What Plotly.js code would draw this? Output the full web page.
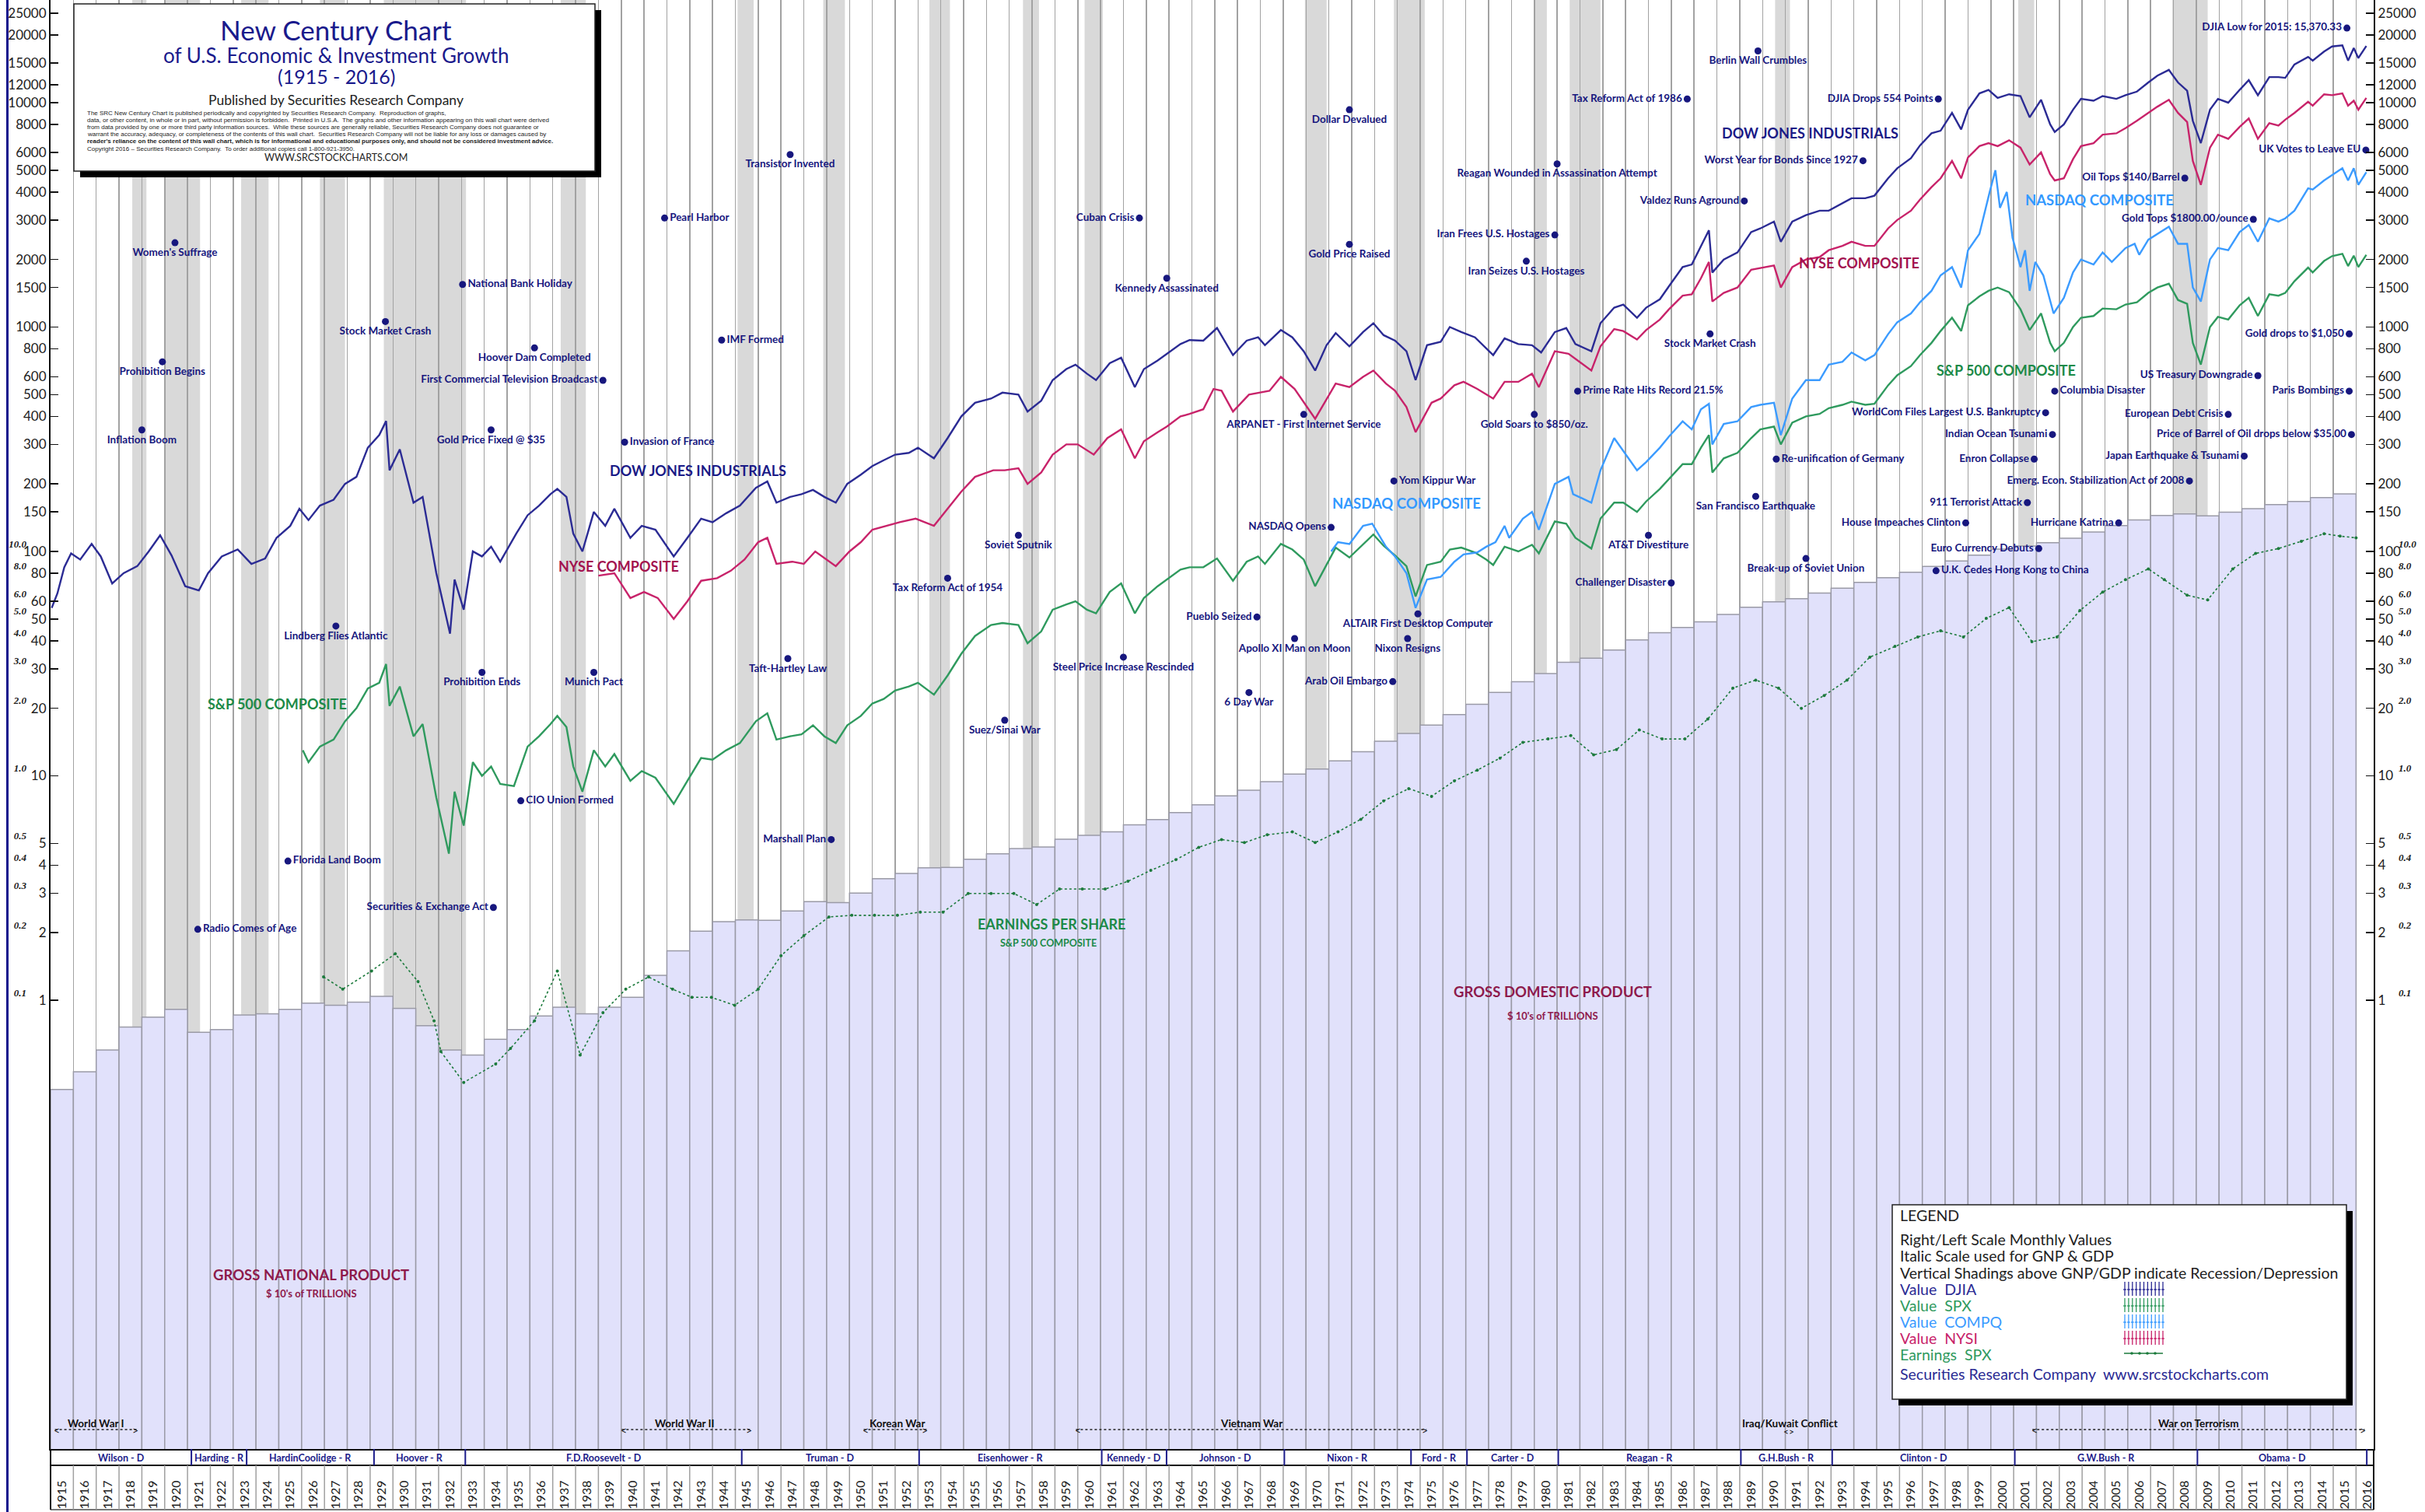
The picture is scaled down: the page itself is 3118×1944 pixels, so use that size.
<!DOCTYPE html>
<html><head><meta charset="utf-8">
<script src="https://cdn.plot.ly/plotly-3.0.1.min.js"></script>
<style>html,body{margin:0;padding:0;background:#fff;}#chart{width:3118px;height:1944px;}</style>
</head><body><div id="chart"></div>
<script>
// ---------------- DATA ----------------
const yearLabels = [1915,1916,1917,1918,1919,1920,1921,1922,1923,1924,1925,1926,1927,1928,1929,1930,1931,1932,1933,1934,1935,1936,1937,1938,1939,1940,1941,1942,1943,1944,1945,1946,1947,1948,1949,1950,1951,1952,1953,1954,1955,1956,1957,1958,1959,1960,1961,1962,1963,1964,1965,1966,1967,1968,1969,1970,1971,1972,1973,1974,1975,1976,1977,1978,1979,1980,1981,1982,1983,1984,1985,1986,1987,1988,1989,1990,1991,1992,1993,1994,1995,1996,1997,1998,1999,2000,2001,2002,2003,2004,2005,2006,2007,2008,2009,2010,2011,2012,2013,2014,2015,2016];

// GNP (to 1949) / GDP (from 1950), italic scale units
const gdpYears = yearLabels.slice(0, 101);
const gdpValues = [0.040,0.048,0.060,0.076,0.084,0.091,0.072,0.074,0.086,0.087,0.091,0.097,0.095,0.098,0.104,0.092,0.077,0.060,0.057,0.067,0.074,0.085,0.093,0.087,0.093,0.103,0.129,0.166,0.203,0.224,0.228,0.227,0.250,0.275,0.272,0.300,0.348,0.367,0.389,0.391,0.425,0.449,0.474,0.482,0.522,0.543,0.563,0.605,0.638,0.686,0.743,0.815,0.862,0.942,1.019,1.073,1.165,1.280,1.425,1.545,1.684,1.873,2.082,2.352,2.627,2.857,3.207,3.343,3.634,4.037,4.339,4.580,4.855,5.236,5.642,5.963,6.158,6.520,6.859,7.287,7.640,8.073,8.578,9.063,9.631,10.25,10.58,10.94,11.46,12.21,13.04,13.81,14.45,14.71,14.42,14.96,15.52,16.16,16.69,17.39,18.04];

const djiaDates = [1915.05,1915.3,1915.6,1915.9,1916.3,1916.8,1917.2,1917.7,1918.2,1918.8,1919.3,1919.8,1920.3,1920.9,1921.5,1921.9,1922.5,1923.2,1923.8,1924.4,1924.9,1925.5,1925.9,1926.3,1926.8,1927.4,1927.9,1928.4,1928.9,1929.4,1929.7,1929.85,1930.3,1930.9,1931.3,1931.9,1932.5,1932.7,1933.1,1933.5,1933.9,1934.3,1934.7,1935.4,1935.9,1936.4,1936.9,1937.2,1937.6,1937.9,1938.3,1938.8,1939.3,1939.7,1940.4,1940.9,1941.5,1942.3,1942.9,1943.5,1944.0,1944.6,1945.2,1945.9,1946.4,1946.8,1947.4,1947.9,1948.4,1948.9,1949.4,1949.9,1950.5,1951.0,1951.5,1952.0,1952.6,1953.0,1953.7,1954.3,1954.9,1955.5,1956.2,1956.7,1957.4,1957.8,1958.4,1958.9,1959.5,1959.9,1960.4,1960.8,1961.4,1961.9,1962.5,1962.9,1963.5,1963.9,1964.5,1964.9,1965.5,1966.1,1966.8,1967.4,1967.9,1968.2,1968.9,1969.4,1969.9,1970.4,1970.9,1971.3,1971.9,1972.5,1972.95,1973.4,1973.9,1974.4,1974.8,1975.3,1975.9,1976.3,1976.8,1977.4,1977.9,1978.2,1978.7,1979.3,1979.9,1980.3,1980.9,1981.4,1981.8,1982.5,1982.9,1983.5,1983.9,1984.5,1984.9,1985.5,1985.9,1986.5,1986.9,1987.3,1987.65,1987.8,1988.3,1988.9,1989.5,1989.9,1990.5,1990.8,1991.3,1991.9,1992.5,1992.9,1993.5,1993.9,1994.5,1994.9,1995.5,1995.9,1996.5,1996.9,1997.4,1997.8,1998.3,1998.7,1999.0,1999.5,1999.9,2000.3,2000.8,2001.3,2001.7,2002.2,2002.6,2002.8,2003.2,2003.6,2003.95,2004.5,2004.9,2005.5,2005.9,2006.4,2006.9,2007.3,2007.8,2008.2,2008.6,2008.85,2009.2,2009.6,2009.95,2010.4,2010.9,2011.3,2011.7,2012.2,2012.6,2012.9,2013.3,2013.9,2014.1,2014.6,2014.95,2015.4,2015.65,2015.9,2016.1,2016.45];
const djiaValues = [56,65,85,98,92,108,95,72,80,86,100,118,96,70,67,80,95,102,88,93,115,130,155,138,160,170,200,215,290,330,381,230,285,165,175,80,43,75,55,100,95,105,90,120,145,160,180,190,175,120,100,150,130,155,115,130,125,95,115,140,135,148,160,192,205,165,175,180,188,175,165,200,220,240,255,270,275,290,260,320,400,460,480,510,500,420,470,580,650,680,620,580,690,730,540,650,710,760,840,875,870,990,750,870,900,830,970,900,780,640,830,940,820,950,1040,920,870,780,580,830,860,1000,950,900,800,750,890,840,830,770,950,990,840,780,1040,1220,1260,1100,1220,1330,1520,1850,1900,2300,2700,1750,2000,2150,2650,2750,2950,2400,2950,3150,3300,3300,3550,3750,3750,3850,4600,5100,5650,6450,7300,7500,9000,7600,9300,11000,11400,10500,10900,10700,8600,10300,8000,7400,8000,9300,10400,10200,10700,10400,10800,11200,12300,13200,14000,12300,11300,8300,6600,9300,10400,10000,11400,12600,10800,13000,13000,12900,14800,16000,15400,16900,17800,18000,15400,17500,15800,17900];

const nyseDates = [1939.0,1939.7,1940.4,1941.0,1941.6,1942.3,1942.9,1943.5,1944.2,1944.8,1945.4,1946.0,1946.4,1946.8,1947.5,1948.0,1948.5,1949.4,1950.0,1950.5,1951.0,1951.6,1952.2,1952.9,1953.7,1954.3,1954.9,1955.5,1956.3,1956.8,1957.4,1957.8,1958.4,1958.9,1959.5,1960.0,1960.7,1961.3,1961.9,1962.5,1962.9,1963.5,1963.9,1964.5,1964.9,1965.5,1965.95,1966.3,1966.8,1967.5,1967.9,1968.4,1968.9,1969.5,1970.4,1970.9,1971.3,1971.9,1972.5,1972.95,1973.5,1973.9,1974.4,1974.8,1975.5,1975.9,1976.5,1976.9,1977.5,1978.2,1978.7,1979.3,1979.9,1980.2,1980.9,1981.5,1982.5,1982.9,1983.5,1983.9,1984.5,1984.9,1985.5,1985.9,1986.5,1986.9,1987.3,1987.65,1987.8,1988.3,1988.9,1989.5,1989.9,1990.5,1990.8,1991.3,1991.9,1992.5,1992.9,1993.5,1993.9,1994.5,1994.9,1995.5,1995.9,1996.5,1996.9,1997.4,1997.8,1998.3,1998.7,1999.0,1999.5,1999.9,2000.3,2000.8,2001.3,2001.7,2002.2,2002.6,2002.8,2003.2,2003.6,2003.95,2004.5,2004.9,2005.5,2005.9,2006.4,2006.9,2007.3,2007.8,2008.2,2008.6,2008.85,2009.2,2009.6,2009.95,2010.4,2010.9,2011.3,2011.7,2012.2,2012.6,2012.9,2013.3,2013.9,2014.1,2014.6,2014.95,2015.4,2015.65,2015.9,2016.1,2016.45];
const nyseValues = [78,80,62,66,62,50,60,74,76,82,92,110,115,88,90,88,100,86,100,110,125,130,135,140,130,155,185,215,230,230,235,200,225,270,300,300,270,320,350,260,310,340,360,400,410,430,530,520,420,500,510,520,600,530,390,480,560,540,600,640,560,520,440,340,460,480,550,570,530,480,570,570,620,540,780,760,640,820,980,960,880,970,1080,1200,1380,1400,1650,1950,1300,1420,1500,1800,1830,1880,1500,1850,2000,2050,2200,2300,2400,2300,2300,2750,3000,3300,3700,4200,4600,5500,4600,5700,6400,6600,6400,6800,6300,5300,6000,4800,4500,4600,5600,6400,6600,7200,7300,7700,8300,9000,9600,10300,9000,8200,5500,4300,6300,7200,6900,7800,8500,6900,8100,7900,8400,9000,10100,9700,10900,10800,11000,9700,10200,9300,10500];

const compDates = [1971.1,1971.4,1971.9,1972.5,1972.9,1973.5,1973.9,1974.4,1974.8,1975.3,1975.9,1976.5,1976.9,1977.5,1977.9,1978.3,1978.7,1978.9,1979.5,1979.9,1980.2,1980.9,1981.5,1981.7,1982.5,1982.9,1983.5,1983.9,1984.5,1984.9,1985.5,1985.9,1986.5,1986.9,1987.3,1987.65,1987.8,1988.3,1988.9,1989.5,1989.9,1990.5,1990.8,1991.3,1991.9,1992.5,1992.9,1993.5,1993.9,1994.5,1994.9,1995.5,1995.9,1996.5,1996.9,1997.4,1997.8,1998.3,1998.7,1999.0,1999.5,1999.95,2000.2,2000.4,2000.7,2000.95,2001.3,2001.5,2001.7,2001.95,2002.3,2002.75,2003.2,2003.6,2003.95,2004.5,2004.9,2005.3,2005.9,2006.3,2006.5,2006.9,2007.3,2007.8,2008.2,2008.6,2008.85,2009.2,2009.6,2009.95,2010.4,2010.9,2011.3,2011.7,2012.2,2012.6,2012.9,2013.3,2013.9,2014.1,2014.6,2014.95,2015.4,2015.65,2015.9,2016.1,2016.45];
const compValues = [100,110,108,130,133,105,95,80,56,75,77,90,97,99,105,110,130,115,140,150,125,200,215,180,165,230,320,280,230,250,290,325,380,350,430,455,300,370,380,440,450,460,330,480,580,580,680,700,770,710,750,930,1050,1150,1290,1450,1700,1850,1500,2200,2600,4000,5000,3400,4000,2500,1850,2200,1450,1950,1700,1150,1350,1750,2000,1900,2150,1950,2250,2350,2100,2450,2600,2800,2350,2350,1500,1300,2000,2250,2200,2650,2850,2400,3050,2950,3050,3300,4150,4100,4500,4750,5100,4500,5100,4300,4900];

const spxDates = [1926.05,1926.3,1926.8,1927.4,1927.9,1928.4,1928.9,1929.4,1929.7,1929.85,1930.3,1930.9,1931.3,1931.9,1932.45,1932.7,1933.1,1933.5,1933.9,1934.3,1934.7,1935.3,1935.9,1936.4,1936.9,1937.2,1937.6,1937.9,1938.3,1938.8,1939.3,1939.7,1940.4,1940.9,1941.5,1942.3,1942.9,1943.5,1944.0,1944.6,1945.2,1945.9,1946.4,1946.8,1947.4,1947.9,1948.4,1948.9,1949.4,1949.9,1950.5,1951.0,1951.5,1952.0,1952.6,1953.0,1953.7,1954.3,1954.9,1955.5,1956.2,1956.7,1957.4,1957.8,1958.4,1958.9,1959.5,1959.9,1960.4,1960.8,1961.4,1961.9,1962.5,1962.9,1963.5,1963.9,1964.5,1964.9,1965.5,1966.1,1966.8,1967.4,1967.9,1968.2,1968.9,1969.4,1969.9,1970.4,1970.9,1971.3,1971.9,1972.5,1972.95,1973.4,1973.9,1974.4,1974.8,1975.3,1975.9,1976.3,1976.8,1977.4,1977.9,1978.2,1978.7,1979.3,1979.9,1980.2,1980.9,1981.4,1981.8,1982.5,1982.9,1983.5,1983.9,1984.5,1984.9,1985.5,1985.9,1986.5,1986.9,1987.3,1987.65,1987.8,1988.3,1988.9,1989.5,1989.9,1990.5,1990.8,1991.3,1991.9,1992.5,1992.9,1993.5,1993.9,1994.5,1994.9,1995.5,1995.9,1996.5,1996.9,1997.4,1997.8,1998.3,1998.7,1999.0,1999.5,1999.9,2000.3,2000.8,2001.3,2001.7,2002.2,2002.6,2002.8,2003.2,2003.6,2003.95,2004.5,2004.9,2005.5,2005.9,2006.4,2006.9,2007.3,2007.8,2008.2,2008.6,2008.85,2009.2,2009.6,2009.95,2010.4,2010.9,2011.3,2011.7,2012.2,2012.6,2012.9,2013.3,2013.9,2014.1,2014.6,2014.95,2015.4,2015.65,2015.9,2016.1,2016.45];
const spxValues = [13,11.5,13.5,14.5,17.5,20,24.5,26,31.5,20.5,25,15,17,8,4.5,8.5,6,11.5,10,11,9.2,9,13.5,15,17,18.5,16.5,11,8.5,13,11,12.5,9.5,10.5,9.8,7.5,9.5,12,11.8,13,14,17.5,19,14.5,15,15.3,16.8,15,14,16.8,18.5,21,22,24,25,26,23,28,35,42,47,48,47,39,44,55,58,60,55,53,66,72,53,62,70,75,83,85,85,93,74,90,95,88,108,102,92,70,87,104,94,108,119,106,96,86,63,87,90,102,104,99,92,87,105,100,107,98,136,133,115,103,140,165,165,150,167,190,210,245,245,290,330,225,260,275,320,350,360,300,375,400,410,435,450,465,450,455,550,610,670,750,850,960,1100,960,1250,1370,1450,1500,1430,1200,970,1150,850,780,850,1000,1100,1120,1210,1200,1260,1290,1420,1500,1560,1320,1270,850,680,1000,1110,1080,1250,1350,1120,1400,1380,1420,1600,1840,1750,1970,2070,2120,1870,2080,1850,2100];

const epsDates = [1926.96,1927.8,1929.06,1930.1,1931.1,1931.8,1932.1,1933.1,1934.5,1935.15,1936.2,1937.2,1938.2,1939.2,1940.2,1941.2,1942.25,1943.1,1943.95,1944.97,1946.0,1947.0,1948.0,1949.1,1950.1,1951.1,1952.1,1953.1,1954.1,1955.2,1956.2,1957.2,1958.2,1959.2,1960.2,1961.2,1962.2,1963.2,1964.3,1965.3,1966.3,1967.3,1968.3,1969.4,1970.4,1971.4,1972.4,1973.4,1974.5,1975.5,1976.5,1977.5,1978.5,1979.5,1980.6,1981.6,1982.6,1983.6,1984.6,1985.6,1986.6,1987.6,1988.7,1989.7,1990.7,1991.7,1992.7,1993.7,1994.7,1995.8,1996.8,1997.8,1998.8,1999.8,2000.8,2001.8,2002.9,2003.9,2004.9,2005.9,2006.9,2007.6,2008.6,2009.5,2010.6,2011.6,2012.6,2013.6,2014.6,2015.3,2016.0];
const epsValues = [1.27,1.12,1.35,1.61,1.21,0.81,0.59,0.43,0.52,0.61,0.81,1.35,0.57,0.88,1.12,1.27,1.12,1.03,1.03,0.95,1.12,1.58,1.94,2.35,2.39,2.39,2.39,2.47,2.47,2.99,2.99,2.99,2.67,3.13,3.13,3.13,3.39,3.79,4.23,4.8,5.2,5.04,5.46,5.63,5.04,5.63,6.4,7.73,8.77,8.1,9.5,10.6,12.0,14.1,14.6,15.1,12.4,13.1,16.0,14.6,14.6,17.9,24.6,26.7,24.6,20.0,22.8,26.7,33.8,37.8,41.6,44.3,41.6,50.3,56.2,39.6,41.6,54.5,65.9,74.8,83.6,74.8,63.8,60.8,83.6,98,103,111,120,117,115];

const recessionStart = [1918.58,1920.0,1923.35,1926.8,1929.6,1937.35,1945.1,1948.85,1953.5,1957.6,1960.3,1969.95,1973.85,1980.0,1981.55,1990.55,2001.2,2007.95];
const recessionEnd   = [1919.2,1921.55,1924.55,1927.9,1933.2,1938.45,1945.8,1949.8,1954.4,1958.3,1961.1,1970.9,1975.2,1980.55,1982.9,1991.2,2001.9,2009.5];

const presidentNames = ['Wilson - D','Harding - R','HardinCoolidge - R','Hoover - R','F.D.Roosevelt - D','Truman - D','Eisenhower - R','Kennedy - D','Johnson - D','Nixon - R','Ford - R','Carter - D','Reagan - R','G.H.Bush - R','Clinton - D','G.W.Bush - R','Obama - D'];
const presidentStart = [1915,1921.17,1923.59,1929.17,1933.17,1945.28,1953.05,1961.05,1963.89,1969.05,1974.6,1977.05,1981.05,1989.05,1993.05,2001.05,2009.05];
const presidentEnd   = [1921.17,1923.59,1929.17,1933.17,1945.28,1953.05,1961.05,1963.89,1969.05,1974.6,1977.05,1981.05,1989.05,1993.05,2001.05,2009.05,2016.47];

const warNames = ['World War I','World War II','Korean War','Vietnam War','Iraq/Kuwait Conflict','War on Terrorism'];
const warStart = [1915.07,1939.9,1950.5,1959.8,1990.95,2001.7];
const warEnd   = [1918.92,1945.8,1953.5,1975.4,1991.35,2016.5];
const warLabelAt = [1917.0,1942.8,1952.1,1967.6,1991.2,2009.1];

const eventNames = ['Inflation Boom','Prohibition Begins',"Women's Suffrage",'Stock Market Crash','Lindberg Flies Atlantic','Florida Land Boom','Radio Comes of Age','Securities & Exchange Act','CIO Union Formed','Prohibition Ends','Munich Pact','Gold Price Fixed @ $35','Hoover Dam Completed','First Commercial Television Broadcast','National Bank Holiday','Invasion of France','Pearl Harbor','IMF Formed','Transistor Invented','Taft-Hartley Law','Marshall Plan','Cuban Crisis','Dollar Devalued','Gold Price Raised','Kennedy Assassinated','Soviet Sputnik','Tax Reform Act of 1954','Suez/Sinai War','Steel Price Increase Rescinded','Pueblo Seized','Apollo XI Man on Moon','6 Day War','Arab Oil Embargo','NASDAQ Opens','ARPANET - First Internet Service','Yom Kippur War','ALTAIR First Desktop Computer','Nixon Resigns','Reagan Wounded in Assassination Attempt','Iran Frees U.S. Hostages','Iran Seizes U.S. Hostages','Tax Reform Act of 1986','Prime Rate Hits Record 21.5%','Gold Soars to $850/oz.','Stock Market Crash','AT&T Divestiture','Challenger Disaster','Berlin Wall Crumbles','Worst Year for Bonds Since 1927','Valdez Runs Aground','DJIA Drops 554 Points','San Francisco Earthquake','Re-unification of Germany','Break-up of Soviet Union','House Impeaches Clinton','Indian Ocean Tsunami','WorldCom Files Largest U.S. Bankruptcy','Enron Collapse','Emerg. Econ. Stabilization Act of 2008','911 Terrorist Attack','Euro Currency Debuts','U.K. Cedes Hong Kong to China','Hurricane Katrina','Columbia Disaster','Oil Tops $140/Barrel','Gold Tops $1800.00/ounce','US Treasury Downgrade','European Debt Crisis','Japan Earthquake & Tsunami','Price of Barrel of Oil drops below $35.00','Paris Bombings','Gold drops to $1,050','UK Votes to Leave EU','DJIA Low for 2015: 15,370.33'];
const eventYears = [1919.0,1919.9,1920.45,1929.67,1927.5,1925.4,1921.45,1934.4,1935.6,1933.9,1938.8,1934.3,1936.2,1939.2,1933.05,1940.15,1941.9,1944.4,1947.4,1947.3,1949.2,1962.7,1971.9,1971.9,1963.9,1957.4,1954.3,1956.8,1962.0,1967.85,1969.5,1967.5,1973.8,1971.1,1969.9,1973.85,1974.9,1974.45,1981.0,1980.9,1979.65,1986.7,1981.9,1980.0,1987.7,1985.0,1986.0,1989.8,1994.4,1989.2,1997.7,1989.7,1990.6,1991.9,1998.9,2002.7,2002.4,2001.9,2008.7,2001.6,2002.1,1997.6,2005.6,2002.8,2008.5,2011.5,2011.7,2010.4,2011.1,2015.8,2015.7,2015.7,2016.43,2015.6];
const eventLevels = [348,700,2375,1058,46.5,4.17,2.07,2.59,7.74,28.9,28.9,348,808,579,1548,307,3060,875,5870,33.3,5.2,3060,9300,2337,1650,118,76,17.7,33.8,51,40.9,23.5,26.3,128,408,206,52.7,40.9,5335,2573,1965,10390,518,408,932,118,72.4,17000,5510,3645,10390,176,258,93,134,332,415,258,206,165,103,82,134,518,4610,3020,607,408,266,332,518,932,6150,21500];

// axis tick labels
const mainTickVals = [1,2,3,4,5,10,20,30,40,50,60,80,100,150,200,300,400,500,600,800,1000,1500,2000,3000,4000,5000,6000,8000,10000,12000,15000,20000,25000];
const mainTickText = mainTickVals.map(String);
const italicTickVals = [0.1,0.2,0.3,0.4,0.5,1,2,3,4,5,6,8,10];
const italicTickText = ['0.1','0.2','0.3','0.4','0.5','1.0','2.0','3.0','4.0','5.0','6.0','8.0','10.0'];

// ---------------- STYLE / LAYOUT ----------------
const B = 'b', L = 'l', R = 'r';
const eventSide = [B,B,B,B,B,R,R,L,R,B,B,B,B,L,R,R,R,R,B,B,L,L,B,B,B,B,B,B,B,L,B,B,L,L,B,R,B,B,B,L,B,L,R,B,B,B,L,B,L,L,L,B,R,B,L,L,L,L,L,L,L,R,L,R,L,L,L,L,L,L,L,L,L,L];
const posMap = {b:'bottom center', l:'middle left', r:'middle right'};

const W = 3118, H = 1944, ML = 65, MR = 66, MT = 0, MB = 81;
const PW = W - ML - MR, PH = H - MT - MB;
const PX = x => (x - ML) / PW;
const PY = y => 1 - (y - MT) / PH;
const FONT = 'Lato, "Open Sans", sans-serif';
const NAVY = '#17177e';

const traces = [];
// GNP/GDP bars on the italic axis (y), everything else on the main axis (y2) drawn above it
traces.push({type:'bar', x: gdpYears.map(y => y + 0.5), y: gdpValues, yaxis:'y', width: 1,
  marker:{color:'#e1e1fb', line:{color:'#9a9aa6', width:1.5}}, hoverinfo:'skip'});
traces.push({type:'scatter', mode:'lines+markers', x: epsDates, y: epsValues, yaxis:'y2',
  line:{color:'#1c7a3c', width:1.6, dash:'dot'}, marker:{size:4, color:'#1c7a3c'}, hoverinfo:'skip'});
traces.push({type:'scatter', mode:'lines', x: spxDates, y: spxValues, yaxis:'y2', line:{color:'#2f9a5e', width:2.4}, hoverinfo:'skip'});
traces.push({type:'scatter', mode:'lines', x: nyseDates, y: nyseValues, yaxis:'y2', line:{color:'#c8236a', width:2.4}, hoverinfo:'skip'});
traces.push({type:'scatter', mode:'lines', x: compDates, y: compValues, yaxis:'y2', line:{color:'#3b9bff', width:2.4}, hoverinfo:'skip'});
traces.push({type:'scatter', mode:'lines', x: djiaDates, y: djiaValues, yaxis:'y2', line:{color:'#2b2b94', width:2.4}, hoverinfo:'skip'});
traces.push({type:'scatter', mode:'markers+text', x: eventYears, y: eventLevels, yaxis:'y2', text: eventNames,
  textposition: eventSide.map(s => posMap[s]), cliponaxis:false,
  marker:{size:9, color:NAVY}, textfont:{family:FONT, size:13.5, color:NAVY, weight:'bold'}, hoverinfo:'skip'});

const shapes = [];
const annotations = [];
// recession shading
recessionStart.forEach((s, i) => shapes.push({type:'rect', xref:'x', yref:'paper', x0:s, x1:recessionEnd[i], y0:0, y1:1,
  fillcolor:'#d9d9d9', line:{width:0}, layer:'below'}));
// GNP / GDP divider
shapes.push({type:'line', xref:'x', yref:'y', x0:1950, x1:1950, y0:-3, y1:Math.log10(gdpValues[35]), line:{color:'#333', width:1.5}});
// bottom table
const yRow1 = PY(1884), yRow2 = PY(1941);
shapes.push({type:'line', xref:'paper', yref:'paper', x0:0, x1:1, y0:yRow1, y1:yRow1, line:{color:'#111', width:2}});
shapes.push({type:'line', xref:'paper', yref:'paper', x0:0, x1:1, y0:yRow2, y1:yRow2, line:{color:'#777', width:2}});
shapes.push({type:'line', xref:'paper', yref:'paper', x0:0, x1:0, y0:yRow2, y1:0, line:{color:'#111', width:2}});
shapes.push({type:'line', xref:'paper', yref:'paper', x0:1, x1:1, y0:yRow2, y1:0, line:{color:'#111', width:2}});
yearLabels.slice(1).forEach(y => shapes.push({type:'line', xref:'x', yref:'paper', x0:y, x1:y, y0:yRow2, y1:yRow1, line:{color:'#a0a0a0', width:1.5}}));
presidentStart.slice(1).concat([presidentEnd[presidentEnd.length-1]]).forEach(y =>
  shapes.push({type:'line', xref:'x', yref:'paper', x0:y, x1:y, y0:yRow1, y1:0, line:{color:'#1c1c8a', width:2}}));
presidentNames.forEach((n, i) => annotations.push({xref:'x', yref:'paper', x:(presidentStart[i]+presidentEnd[i])/2, y:PY(1874),
  text:n, showarrow:false, font:{family:FONT, size:12.5, color:'#1c1c8a', weight:'bold'}, xanchor:'center', yanchor:'middle'}));
// wars
warNames.forEach((n, i) => {
  annotations.push({xref:'x', yref:'paper', x:warLabelAt[i], y:PY(1830), text:n, showarrow:false, font:{family:FONT, size:13.5, color:'#111', weight:'bold'}, xanchor:'center', yanchor:'middle'});
  if (warEnd[i] - warStart[i] < 1) {
    annotations.push({xref:'x', yref:'paper', x:(warStart[i]+warEnd[i])/2, y:PY(1840), text:'&lt;&gt;', showarrow:false, font:{family:FONT, size:12, color:'#111'}, xanchor:'center', yanchor:'middle'});
  } else {
    shapes.push({type:'line', xref:'x', yref:'paper', x0:warStart[i]+0.12, x1:warEnd[i]-0.12, y0:PY(1838), y1:PY(1838), line:{color:'#222', width:1.6, dash:'dot'}});
    annotations.push({xref:'x', yref:'paper', x:warStart[i], y:PY(1838), text:'&lt;', showarrow:false, font:{family:FONT, size:14, color:'#111'}, xanchor:'left', yanchor:'middle'});
    annotations.push({xref:'x', yref:'paper', x:warEnd[i], y:PY(1838), text:'&gt;', showarrow:false, font:{family:FONT, size:14, color:'#111'}, xanchor:'right', yanchor:'middle'});
  }
});
// left navy frame
shapes.push({type:'line', xref:'paper', yref:'paper', x0:PX(9.5), x1:PX(9.5), y0:PY(1944), y1:PY(0), line:{color:'#10108c', width:3}});

// section labels
function lab(text, x, y, size, color) {
  annotations.push({xref:'paper', yref:'paper', x:PX(x), y:PY(y), text:text, showarrow:false, xanchor:'center', yanchor:'middle',
    font:{family:FONT, size:size, color:color, weight:'bold'}});
}
lab('DOW JONES INDUSTRIALS', 897, 605, 18, '#1a1a86');
lab('NYSE COMPOSITE', 795, 728, 18, '#a3124f');
lab('S&amp;P 500 COMPOSITE', 356, 905, 18, '#1c8a48');
lab('NASDAQ COMPOSITE', 1808, 647, 18.5, '#3399ff');
lab('DOW JONES INDUSTRIALS', 2327, 171, 18, '#1a1a86');
lab('NYSE COMPOSITE', 2390, 338, 18, '#a3124f');
lab('NASDAQ COMPOSITE', 2699, 257, 18.5, '#3399ff');
lab('S&amp;P 500 COMPOSITE', 2579, 476, 18, '#1c8a48');
lab('EARNINGS PER SHARE', 1352, 1188, 18, '#1c8a48');
lab('S&amp;P 500 COMPOSITE', 1348, 1212, 12.5, '#1c8a48');
lab('GROSS DOMESTIC PRODUCT', 1996, 1275, 18.5, '#8e1a4c');
lab("$ 10's of TRILLIONS", 1996, 1306, 13, '#8e1a4c');
lab('GROSS NATIONAL PRODUCT', 400, 1639, 18.5, '#8e1a4c');
lab("$ 10's of TRILLIONS", 400, 1663, 13, '#8e1a4c');

// title box
function box(x0, y0, x1, y1) {
  shapes.push({type:'rect', xref:'paper', yref:'paper', x0:PX(x0+8), x1:PX(x1+8), y0:PY(y1+8), y1:PY(y0+8), fillcolor:'#000', line:{width:0}, layer:'above'});
  shapes.push({type:'rect', xref:'paper', yref:'paper', x0:PX(x0), x1:PX(x1), y0:PY(y1), y1:PY(y0), fillcolor:'#fff', line:{color:'#222', width:1.5}, layer:'above'});
}
box(95, 5, 765, 220);
function txt(text, x, y, size, color, anchor) {
  annotations.push({xref:'paper', yref:'paper', x:PX(x), y:PY(y), text:text, showarrow:false, xanchor:anchor||'center', yanchor:'middle',
    font:{family:FONT, size:size, color:color}});
}
txt('New Century Chart', 432, 38, 35, '#1a1a8c');
txt('of U.S. Economic &amp; Investment Growth', 432, 71, 26, '#1a1a8c');
txt('(1915 - 2016)', 432, 98, 25, '#1a1a8c');
txt('Published by Securities Research Company', 432, 129, 17.5, '#222');
const disclaimer = [
 'The SRC New Century Chart is published periodically and copyrighted by Securities Research Company.  Reproduction of graphs,',
 'data, or other content, in whole or in part, without permission is forbidden.  Printed in U.S.A.  The graphs and other information appearing on this wall chart were derived',
 'from data provided by one or more third party information sources.  While these sources are generally reliable, Securities Research Company does not guarantee or',
 'warrant the accuracy, adequacy, or completeness of the contents of this wall chart.  Securities Research Company will not be liable for any loss or damages caused by',
 "<b>reader's reliance on the content of this wall chart, which is for informational and educational purposes only, and should not be considered investment advice.</b>",
 'Copyright 2016 – Securities Research Company.  To order additional copies call 1-800-921-3950.'];
disclaimer.forEach((t, i) => annotations.push({xref:'paper', yref:'paper', x:PX(110), y:PY(145 + i*9.2), text:t, showarrow:false,
  xanchor:'left', yanchor:'middle', font:{family:'"Liberation Sans Narrow","Liberation Sans", sans-serif', size:8, color:'#222'}}));
txt('WWW.SRCSTOCKCHARTS.COM', 432, 202, 12.5, '#222');

// legend box
box(2433, 1549, 3017, 1799);
txt('LEGEND', 2441, 1562, 19.5, '#222', 'left');
txt('Right/Left Scale Monthly Values', 2441, 1593, 19.5, '#222', 'left');
txt('Italic Scale used for GNP &amp; GDP', 2441, 1614, 19.5, '#222', 'left');
txt('Vertical Shadings above GNP/GDP indicate Recession/Depression', 2441, 1636, 19.5, '#222', 'left');
const legRows = [['Value  DJIA','#2b2b94',1657],['Value  SPX','#2f9a5e',1678],['Value  COMPQ','#3b9bff',1699],['Value  NYSI','#c8236a',1720]];
legRows.forEach(r => {
  txt(r[0], 2441, r[2], 19.5, r[1], 'left');
  let p = '';
  for (let k = 0; k < 11; k++) {
    const x = 2732 + k*4.9;
    p += `M${PX(x)},${PY(r[2]-9)} L${PX(x)},${PY(r[2]+9)} M${PX(x-1.8)},${PY(r[2]+1)} L${PX(x+1.8)},${PY(r[2]+1)} `;
  }
  shapes.push({type:'path', xref:'paper', yref:'paper', path:p, line:{color:r[1], width:1.3}, layer:'above'});
});
txt('Earnings  SPX', 2441, 1741, 19.5, '#2f9a5e', 'left');
shapes.push({type:'line', xref:'paper', yref:'paper', x0:PX(2731), x1:PX(2781), y0:PY(1740), y1:PY(1740), line:{color:'#1c7a3c', width:1.3}, layer:'above'});
[2741, 2751, 2761, 2771].forEach(x => shapes.push({type:'circle', xref:'paper', yref:'paper', x0:PX(x-1.8), x1:PX(x+1.8), y0:PY(1741.8), y1:PY(1738.2), fillcolor:'#1c7a3c', line:{width:0}, layer:'above'}));
txt('Securities Research Company  www.srcstockcharts.com', 2441, 1766, 19.5, '#2b2b94', 'left');

const mainRange = [-2, 4.4575], italicRange = [-3, 3.4575];
const mainTickFont = {family:FONT, size:17, color:'#222'};
const italicFont = {family:'"Liberation Serif", "DejaVu Serif", serif', size:13, color:'#222', style:'italic', weight:'bold'};
const layout = {
  width: W, height: H, margin:{l:ML, r:MR, t:MT, b:MB, pad:0},
  paper_bgcolor:'#fff', plot_bgcolor:'#fff', showlegend:false, hovermode:false,
  xaxis:{range:[1915, 1915 + PW/29.35], showgrid:false, zeroline:false, showline:true, linecolor:'#111', linewidth:2,
    tickmode:'array', tickvals: yearLabels.map(y => y + 0.5), ticktext: yearLabels.map(String), tickangle:-90, ticks:'',
    ticklabelstandoff: 32, tickfont:{family:FONT, size:16, color:'#222'},
    minor:{tickmode:'linear', tick0:1915, dtick:1, showgrid:true, gridcolor:'#a2a2a2', gridwidth:1.5, ticks:''}},
  // italic GNP/GDP scale, left
  yaxis: {type:'log', range:italicRange, side:'left', anchor:'x', showgrid:false, zeroline:false, showline:false, ticks:'',
    tickmode:'array', tickvals:italicTickVals, ticktext:italicTickText, ticklabelstandoff:30, ticklabelshift:-10, tickfont:italicFont, fixedrange:true},
  // main scale, left
  yaxis2: {type:'log', range:mainRange, overlaying:'y', side:'left', anchor:'x', showgrid:false, zeroline:false, showline:true, linecolor:'#111', linewidth:2,
    ticks:'inside', ticklen:10, tickwidth:1.5, tickcolor:'#111', tickmode:'array', tickvals:mainTickVals, ticktext:mainTickText, tickfont:mainTickFont, fixedrange:true},
  // main scale, right
  yaxis3: {type:'log', range:mainRange, overlaying:'y', side:'right', anchor:'x', showgrid:false, zeroline:false, showline:true, linecolor:'#111', linewidth:2,
    ticks:'inside', ticklen:10, tickwidth:1.5, tickcolor:'#111', tickmode:'array', tickvals:mainTickVals, ticktext:mainTickText, tickfont:mainTickFont, fixedrange:true},
  // italic scale, right
  yaxis4: {type:'log', range:italicRange, overlaying:'y', side:'right', anchor:'x', showgrid:false, zeroline:false, showline:false, ticks:'',
    tickmode:'array', tickvals:italicTickVals, ticktext:italicTickText, ticklabelstandoff:31, ticklabelshift:-10, tickfont:italicFont, fixedrange:true},
  shapes: shapes, annotations: annotations
};
// invisible carrier traces so the right-side axes are drawn
traces.push({type:'scatter', x:[1915], y:[1], yaxis:'y3', mode:'markers', marker:{opacity:0}, hoverinfo:'skip'});
traces.push({type:'scatter', x:[1915], y:[1], yaxis:'y4', mode:'markers', marker:{opacity:0}, hoverinfo:'skip'});
Plotly.newPlot('chart', traces, layout, {staticPlot:true});
</script></body></html>
